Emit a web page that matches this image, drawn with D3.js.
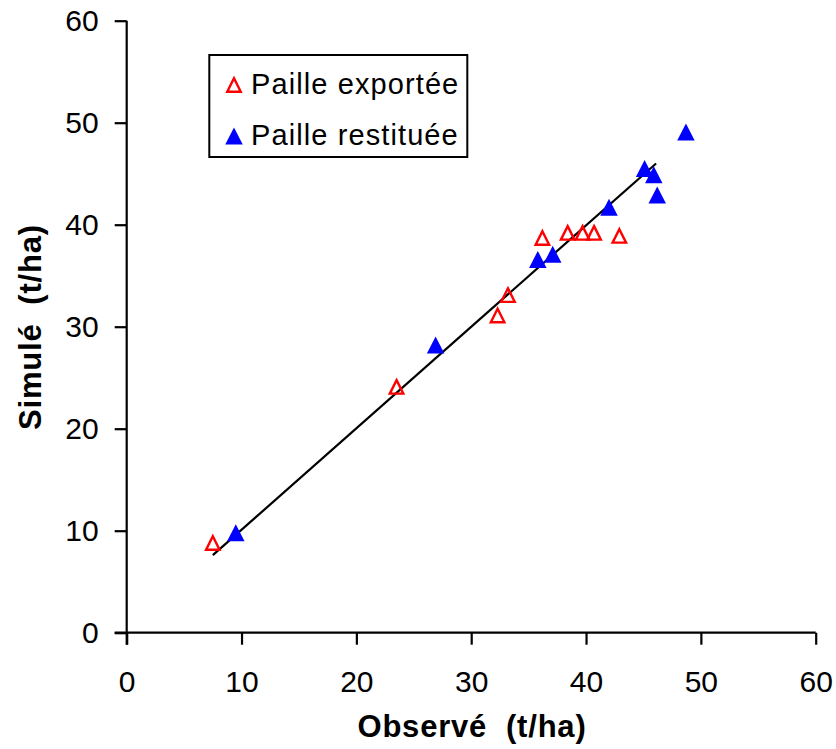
<!DOCTYPE html>
<html>
<head>
<meta charset="utf-8">
<script src="https://cdn.jsdelivr.net/npm/d3@7"></script>
<style>
  body { margin: 0; background: #fff; }
  text { font-family: "Liberation Sans", Arial, sans-serif; white-space: pre; }
</style>
</head>
<body>
<svg width="836" height="749"></svg>
<script>
// Data
var exporteeObs = [7.5, 23.5, 32.3, 33.2, 36.2, 38.4, 39.7, 40.7, 42.9];
var exporteeSim = [8.8, 24.1, 31.1, 33.1, 38.7, 39.2, 39.2, 39.2, 38.9];
var restitueeObs = [9.5, 26.9, 35.8, 37.1, 42.0, 45.1, 45.9, 46.2, 48.7];
var restitueeSim = [9.8, 28.2, 36.6, 37.1, 41.7, 45.5, 44.9, 42.9, 49.1];
var fitObs = [7.5, 46.1];
var fitSim = [7.6, 46.0];
var xTicks = [0, 10, 20, 30, 40, 50, 60];
var yTicks = [0, 10, 20, 30, 40, 50, 60];
var legendLabels = ['Paille exportée', 'Paille restituée'];

var svg = d3.select('svg');

var x = d3.scaleLinear().domain([0, 60]).range([126.7, 815.7]);
var y = d3.scaleLinear().domain([0, 60]).range([632.7, 20.7]);

// triangle with width = w and height = h, centred on its box
function triangle(w, h) {
  return {
    draw: function (ctx) {
      ctx.moveTo(0, -h / 2);
      ctx.lineTo(w / 2, h / 2);
      ctx.lineTo(-w / 2, h / 2);
      ctx.closePath();
    }
  };
}
var openTri = d3.symbol().type(triangle(13.5, 13.5));
var fullTri = d3.symbol().type(triangle(17.5, 17));

// Axes
var xAxis = svg.append('g')
  .attr('transform', 'translate(0,' + y(0) + ')')
  .call(d3.axisBottom(x).tickValues(xTicks).tickSizeOuter(0).tickSize(12).tickPadding(26));
var yAxis = svg.append('g')
  .attr('transform', 'translate(' + x(0) + ',0)')
  .call(d3.axisLeft(y).tickValues(yTicks).tickSizeOuter(0).tickSize(12).tickPadding(16));

[xAxis, yAxis].forEach(function (a) {
  a.select('.domain').attr('stroke', '#000').attr('stroke-width', 2.2);
  a.selectAll('.tick line').attr('stroke', '#000').attr('stroke-width', 2.2);
  a.selectAll('.tick text')
    .attr('fill', '#000')
    .style('font-family', '"Liberation Sans", Arial, sans-serif')
    .style('font-size', '30px');
});
xAxis.select('.domain').attr('d', 'M' + (x(0) - 12) + ',0H' + x(60));
yAxis.select('.domain').attr('d', 'M0,' + (y(0) + 12) + 'V' + y(60));

// Fit line
svg.append('path')
  .datum(d3.zip(fitObs, fitSim))
  .attr('d', d3.line().x(function (d) { return x(d[0]); }).y(function (d) { return y(d[1]); }))
  .attr('stroke', '#000')
  .attr('stroke-width', 2.2)
  .attr('fill', 'none');

// Paille exportée (open red)
svg.append('g').selectAll('path')
  .data(d3.zip(exporteeObs, exporteeSim))
  .enter().append('path')
  .attr('d', openTri)
  .attr('transform', function (d) { return 'translate(' + x(d[0]) + ',' + y(d[1]) + ')'; })
  .attr('fill', 'none')
  .attr('stroke', '#ff0000')
  .attr('stroke-width', 2.4);

// Paille restituée (filled blue)
svg.append('g').selectAll('path')
  .data(d3.zip(restitueeObs, restitueeSim))
  .enter().append('path')
  .attr('d', fullTri)
  .attr('transform', function (d) { return 'translate(' + x(d[0]) + ',' + y(d[1]) + ')'; })
  .attr('fill', '#0000ff');

// Axis titles
svg.append('text')
  .attr('x', 472).attr('y', 737)
  .attr('text-anchor', 'middle')
  .style('font-size', '31px').style('font-weight', 'bold').style('letter-spacing', '0.8px')
  .text('Observé  (t/ha)');
svg.append('text')
  .attr('transform', 'translate(41,327) rotate(-90)')
  .attr('text-anchor', 'middle')
  .style('font-size', '31px').style('font-weight', 'bold').style('letter-spacing', '0.8px')
  .text('Simulé  (t/ha)');

// Legend
var legend = svg.append('g');
legend.append('rect')
  .attr('x', 209.3).attr('y', 55).attr('width', 258).attr('height', 102)
  .attr('fill', '#fff').attr('stroke', '#000').attr('stroke-width', 2);
var items = legend.selectAll('g.item')
  .data(legendLabels)
  .enter().append('g')
  .attr('transform', function (d, i) { return 'translate(234,' + (85 + i * 51) + ')'; });
items.append('path')
  .attr('d', function (d, i) { return i === 0 ? openTri() : fullTri(); })
  .attr('fill', function (d, i) { return i === 0 ? 'none' : '#0000ff'; })
  .attr('stroke', function (d, i) { return i === 0 ? '#ff0000' : null; })
  .attr('stroke-width', 2.4);
items.append('text')
  .attr('x', 17).attr('y', 8.5)
  .style('font-size', '29px').style('letter-spacing', '1.1px')
  .text(function (d) { return d; });
</script>
</body>
</html>
